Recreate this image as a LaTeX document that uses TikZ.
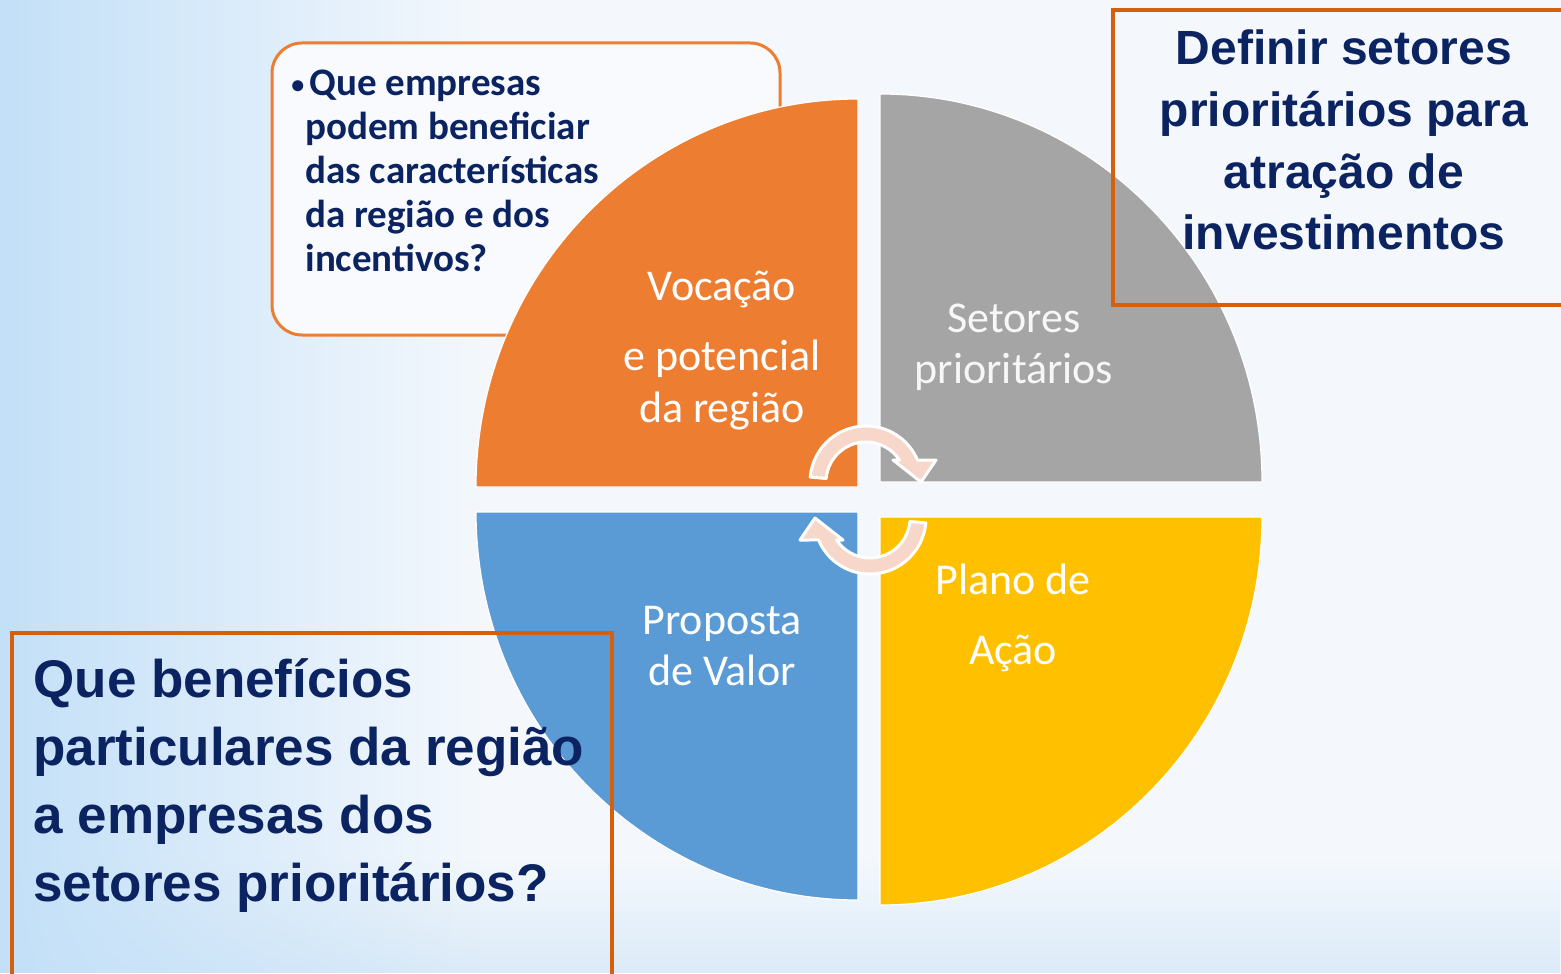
\documentclass[tikz,border=0pt]{standalone}
\usepackage{fontspec}
\usetikzlibrary{fadings}
\setmainfont{Carlito}
\newfontfamily\arialfont{Liberation Sans}
\definecolor{bgbase}{HTML}{F4F8FD}
\definecolor{bgleft}{HTML}{C3E0F8}
\definecolor{bgbottom}{HTML}{DCEBF8}
\definecolor{orangeQ}{HTML}{ED7D31}
\definecolor{grayQ}{HTML}{A5A5A5}
\definecolor{yellowQ}{HTML}{FFC000}
\definecolor{blueQ}{HTML}{5B9BD5}
\definecolor{navy}{HTML}{0B2461}
\definecolor{boxorange}{HTML}{D65F0B}
\definecolor{arrowpink}{HTML}{F8D7CB}
\definecolor{boxfill}{HTML}{F8FAFD}
\begin{document}
\begin{tikzpicture}[x=0.5pt,y=-0.5pt,
  quadrant/.style={draw=white, line width=0.6pt},
  cyclearrow/.style={fill=arrowpink, draw=white, line width=1.5pt, line join=round},
  qtext/.style={anchor=base, inner sep=0pt, text=white, font=\fontsize{22}{25.75}\selectfont},
  framebox/.style={draw=boxorange, line width=2pt},
  bigq/.style={inner sep=0pt, text=navy, font=\arialfont\bfseries}]
\useasboundingbox (0,0) rectangle (1561,973);
\clip (0,0) rectangle (1561,973);
% background
\fill[bgbase] (0,0) rectangle (1561,973);
\fill[bgbottom, path fading=north] (0,860) rectangle (1561,973);
\fill[bgleft, path fading=east] (0,0) rectangle (480,973);
% question box (behind the orange quadrant)
\draw[draw=orangeQ, line width=1.5pt, fill=boxfill, rounded corners=15pt] (272,43) rectangle (780,335);
\node[anchor=base west, inner sep=0pt, text=navy, font=\bfseries\fontsize{19.5}{22}\selectfont] (qtl) at (291,95.5)
  {\begin{tabular}[t]{@{}l@{}}\makebox[9pt][l]{\raisebox{1.2pt}{\fontsize{13}{13}\selectfont •}}Que empresas\\
   \hspace*{7pt}podem beneficiar\\
   \hspace*{7pt}das características\\
   \hspace*{7pt}da região e dos\\
   \hspace*{7pt}incentivos?\end{tabular}};
% quadrants
\path[quadrant, fill=orangeQ] (858,487) -- (476,487) arc[start angle=180, end angle=270, x radius=382, y radius=388] -- cycle;
\path[quadrant, fill=grayQ] (880,482) -- (880,94) arc[start angle=270, end angle=360, x radius=382, y radius=388] -- cycle;
\path[quadrant, fill=yellowQ] (880,517) -- (1262,517) arc[start angle=0, end angle=90, x radius=382, y radius=388] -- cycle;
\path[quadrant, fill=blueQ] (858,512) -- (858,900) arc[start angle=90, end angle=180, x radius=382, y radius=388] -- cycle;
% cycle arrows
\path[cyclearrow] (826.2,478.5) -- (810.2,477.1) arc[start angle=185, end angle=336.9, radius=56]
  -- (936,460) -- (921,482) -- (893,460) -- (899.4,460) arc[start angle=326.6, end angle=185, radius=40] -- cycle;
\path[cyclearrow] (909.8,521.5) -- (925.8,522.9) arc[start angle=5, end angle=156.9, radius=56]
  -- (800,540) -- (815,518) -- (843,540) -- (836.6,540) arc[start angle=146.6, end angle=5, radius=40] -- cycle;
% quadrant labels
\node[qtext] (voc) at (722,300) {\begin{tabular}[t]{@{}c@{}}Vocação\\[9.5pt] e potencial\\ da região\end{tabular}};
\node[qtext, text=white!94!gray] (set) at (1014,332) {\begin{tabular}[t]{@{}c@{}}Setores\\ prioritários\end{tabular}};
\node[qtext] (pla) at (1013,594) {\begin{tabular}[t]{@{}c@{}}Plano de\\[9.5pt] Ação\end{tabular}};
\node[qtext] (pro) at (722,634) {\begin{tabular}[t]{@{}c@{}}Proposta\\ de Valor\end{tabular}};
% framed questions
\draw[framebox] (1113,10) rectangle (1580,305);
\node[bigq, anchor=base, font=\arialfont\bfseries\fontsize{24}{30.8}\selectfont] (def) at (1344,65)
  {\begin{tabular}[t]{@{}c@{}}Definir setores\\ prioritários para\\ atração de\\ investimentos\end{tabular}};
\draw[framebox] (12,633) rectangle (612,995);
\node[bigq, anchor=base west, font=\arialfont\bfseries\fontsize{26.5}{34}\selectfont] (ben) at (33,697)
  {\begin{tabular}[t]{@{}l@{}}Que benefícios\\ particulares da região\\ a empresas dos\\ setores prioritários?\end{tabular}};
\end{tikzpicture}
\end{document}
